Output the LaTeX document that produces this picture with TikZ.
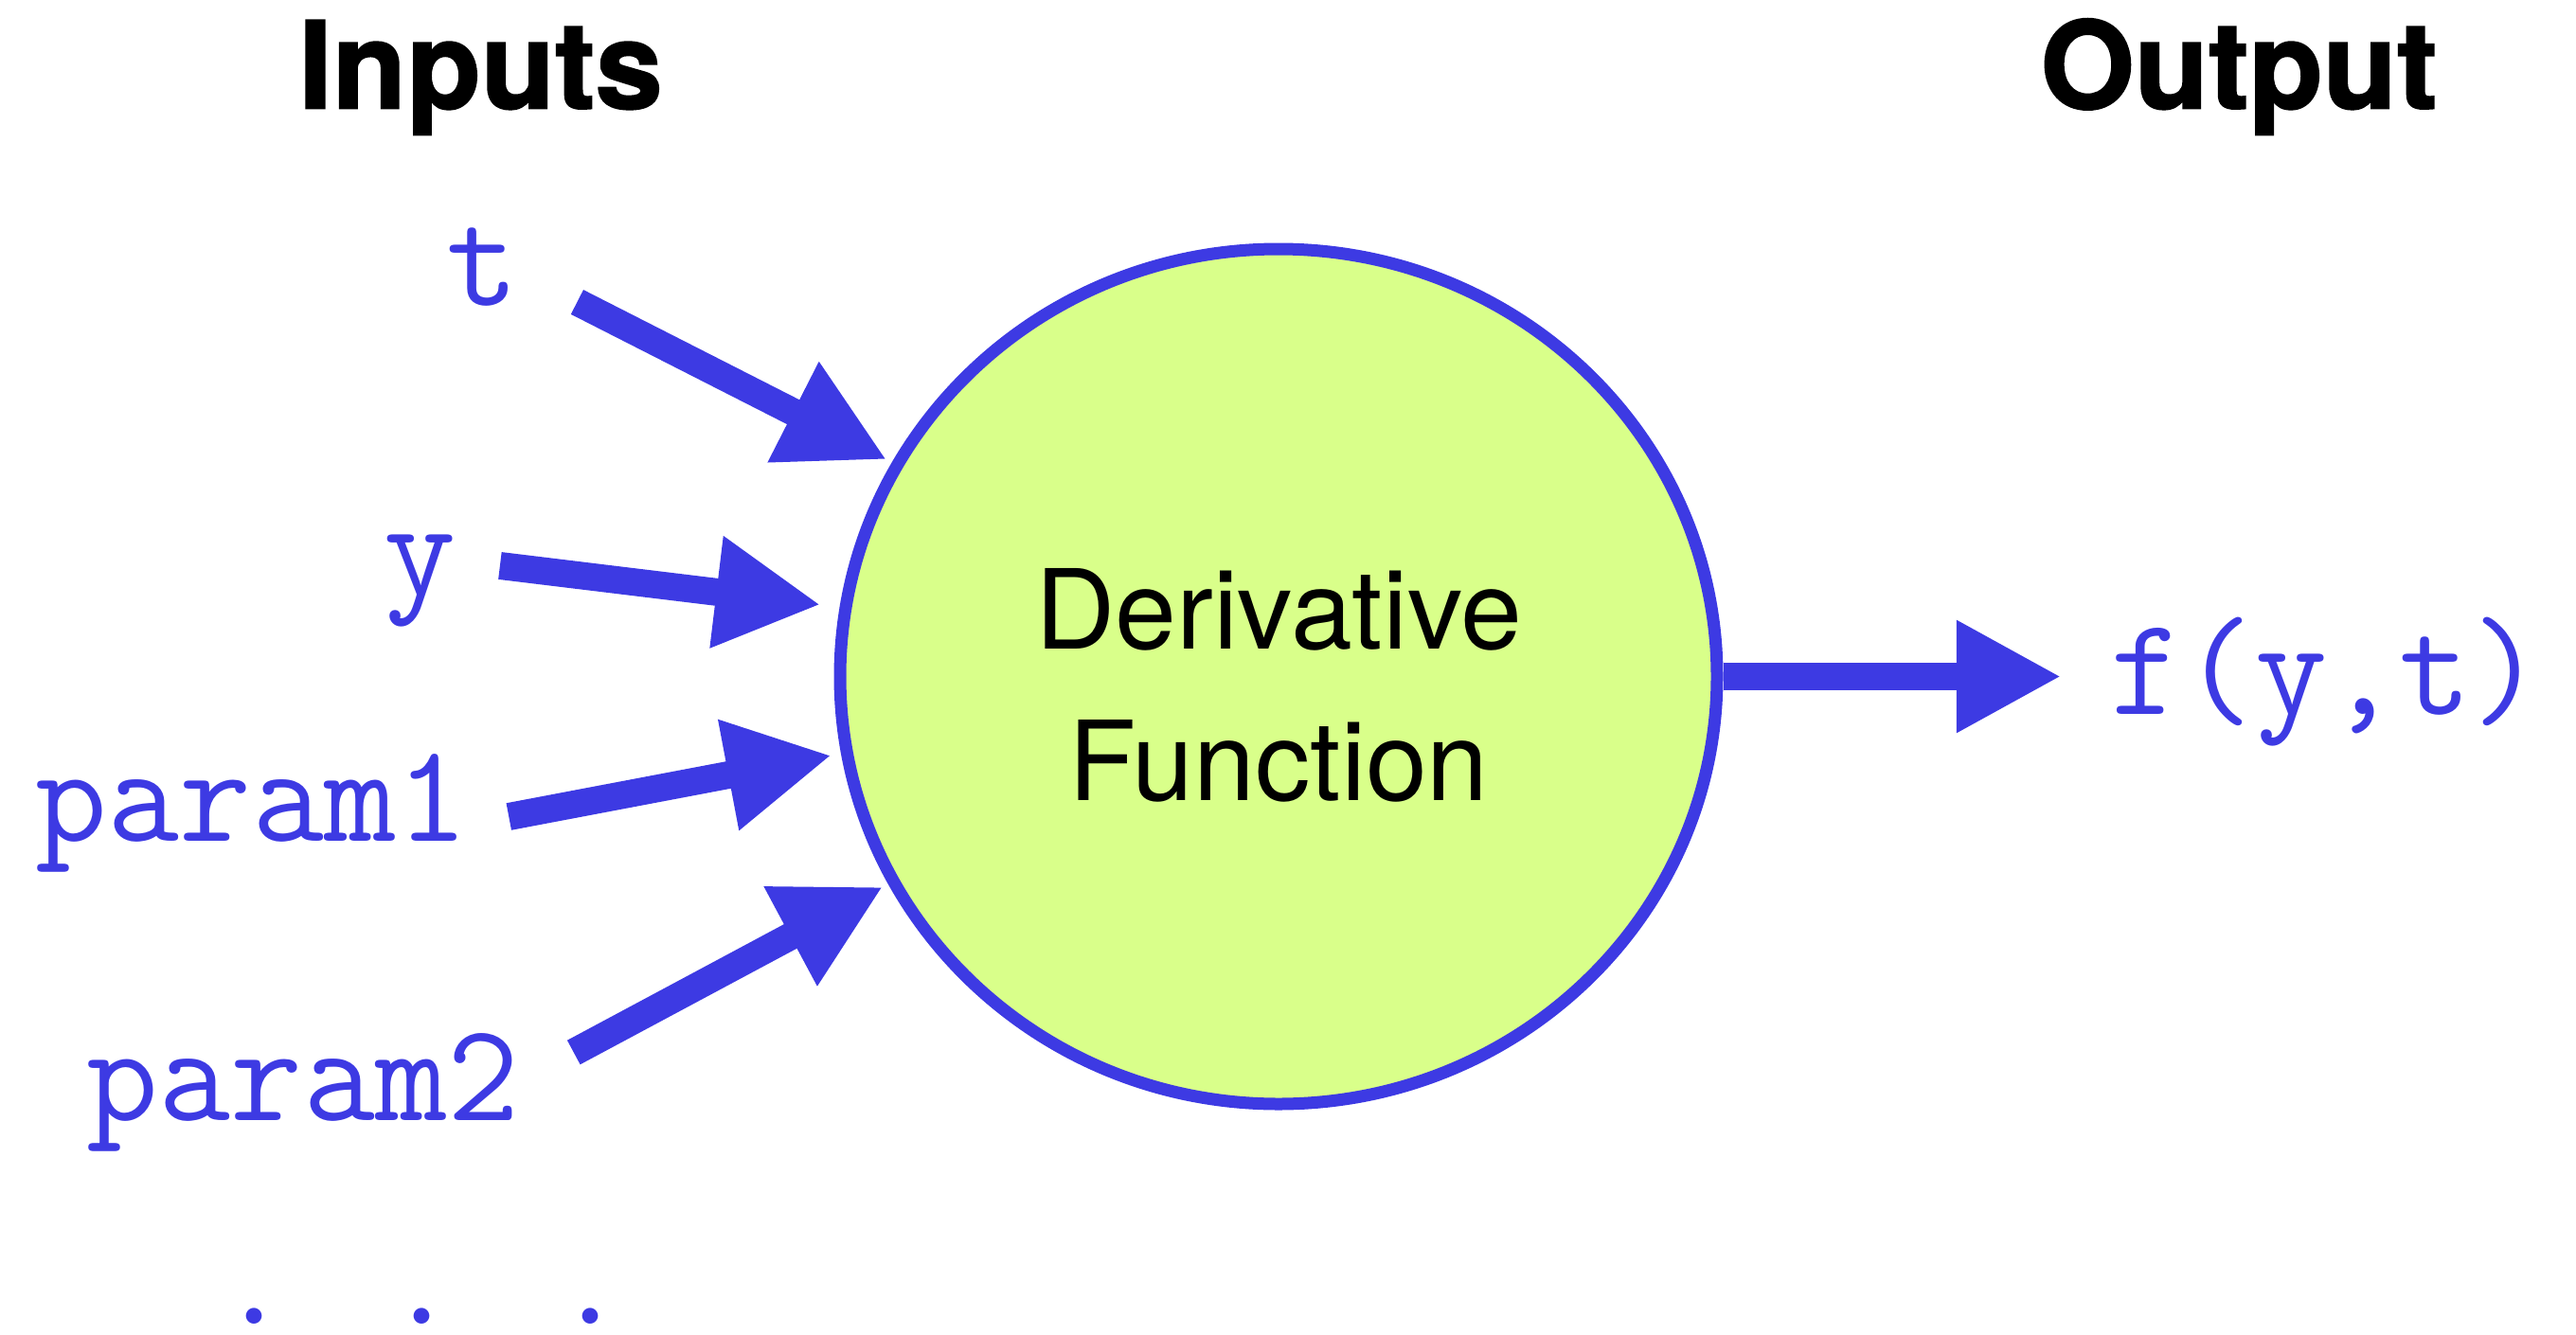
\documentclass[tikz,border=0pt]{standalone}
\usepackage{fontspec}
\usetikzlibrary{arrows.meta,shapes.geometric}
\newfontfamily\heros[BoldFeatures={FakeBold=1.5}]{TeX Gyre Heros}
\definecolor{inkblue}{RGB}{61,58,227}
\definecolor{fngreen}{RGB}{217,255,138}

\tikzstyle{func} = [ellipse, minimum width=9.26cm, minimum height=9.03cm, inner sep=0, align=center, line width=0.13cm, draw=inkblue, fill=fngreen, font={\heros\fontsize{33.2}{45.5}\selectfont}]
\tikzstyle{head} = [inner sep=0, anchor=base, font={\heros\bfseries\fontsize{36.4}{40}\selectfont}]
\tikzstyle{var} = [inner sep=0, anchor=base, text=inkblue, font={\ttfamily\fontsize{42}{50}\selectfont}]
\tikzstyle{arrow} = [line width=0.29cm, draw=inkblue, -{Triangle[length=1.11cm, width=1.11cm]}]

\begin{document}
\begin{tikzpicture}
  \useasboundingbox (0,0) rectangle (27.2,-14.09);

  \node (Inputs) [head] at (5.075,-1.145) {Inputs};
  \node (Output) [head] at (23.64,-1.145) {Output};

  % strut lowers the two lines a little inside the circle
  \node (fn) [func] at (13.50,-7.145) {\rule{0pt}{1.03cm}Derivative\\Function};

  \node (t) [var] at (5.10,-3.22) {t};
  \node (y) [var] at (4.44,-6.28) {y};
  \node (p1) [var] at (2.66,-8.88) {param1};
  \node (p2) [var] at (3.20,-11.83) {param2};
  \node (more) [var] at (4.46,-13.98) {. . .};
  \node (f) [var] at (24.57,-7.54) {f(y,t)};

  \draw [arrow, shorten >=0.06cm] ([shift={(0.607,0.03)}]t.base east) -- (fn.151.3);
  \draw [arrow, shorten >=0.20cm] ([shift={(0.452,0.305)}]y.base east) -- (fn.171.25);
  \draw [arrow, shorten >=0.10cm] ([shift={(0.425,0.255)}]p1.base east) -- (fn.190.9);
  \draw [arrow, shorten >=0.06cm] ([shift={(0.57,0.715)}]p2.base east) -- (fn.208.8);
  \draw [arrow, shorten >=0.515cm] (fn.east) -- (fn.east -| f.west);
\end{tikzpicture}
\end{document}
